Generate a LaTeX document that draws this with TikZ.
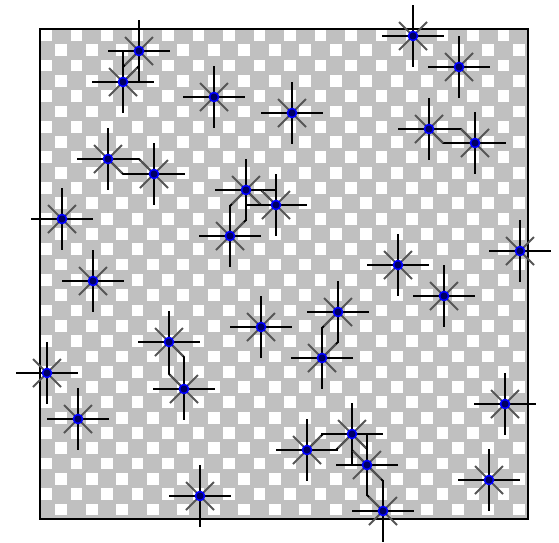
\documentclass[tikz,border=0pt]{standalone}
\usepackage{tikz}
\usetikzlibrary{calc}
\definecolor{checkgray}{RGB}{192,192,192}
\definecolor{diaggray}{RGB}{85,85,85}
\definecolor{dotnavy}{RGB}{0,0,100}

\begin{document}
\begin{tikzpicture}[x=1pt,y=-1pt,
  arm/.style={black,line width=1.8pt},
  diag/.style={diaggray,line width=1.8pt},
  link/.style={black,line width=1.8pt,line join=round}]
\useasboundingbox (0,0) rectangle (559,542);

% checkerboard
\fill[checkgray] (40,29) rectangle (528,519);
\foreach \i in {0,...,31}
  \foreach \j in {0,...,15} {
    \pgfmathsetmacro\cx{40+(2*\j+mod(\i,2))*15.25}
    \fill[white] (\cx,{29+\i*15.31}) rectangle ++(11.8,11.8);
  }
\draw[line width=2pt] (40,29) rectangle (528,519);

% points
\foreach \i/\x/\y in {1/139/51, 2/123/82, 3/214/97, 4/292/113, 5/413/36,
  6/459/67, 7/429/129, 8/475/143, 9/108/159, 10/154/174, 11/246/190,
  12/276/205, 13/230/236, 14/62/219, 15/93/281, 16/398/265, 17/520/251,
  18/444/296, 19/338/312, 20/322/358, 21/261/327, 22/169/342, 23/184/389,
  24/47/373, 25/78/419, 26/505/404, 27/307/450, 28/352/434, 29/367/465,
  30/383/511, 31/489/480, 32/200/496}
  \coordinate (p\i) at (\x,\y);

% octilinear links
\foreach \a/\b in {1/2, 7/8, 9/10, 11/12, 11/13, 19/20, 22/23, 27/28, 28/29, 29/30}
  \draw[link] let \p1=(p\a), \p2=(p\b), \n1={\x2-\x1}, \n2={\y2-\y1},
      \n3={min(abs(\n1),abs(\n2))} in
    (p\a) -- ++({sign(\n1)*\n3},{sign(\n2)*\n3}) -- (p\b)
    (p\a) -- ++({\n1-sign(\n1)*\n3},{\n2-sign(\n2)*\n3}) -- (p\b);

% stars
\foreach \i in {1,...,32} {
  \draw[diag] (p\i) ++(-14,-14) -- ++(28,28);
  \draw[diag] (p\i) ++(-14,14) -- ++(28,-28);
  \draw[arm] (p\i) ++(-31,0) -- ++(62,0);
  \draw[arm] (p\i) ++(0,-31) -- ++(0,62);
}

% dots
\foreach \i in {1,...,32} {
  \fill[blue] (p\i) circle (5.4);
  \fill[dotnavy] (p\i) circle (3.5);
}
\end{tikzpicture}
\end{document}
